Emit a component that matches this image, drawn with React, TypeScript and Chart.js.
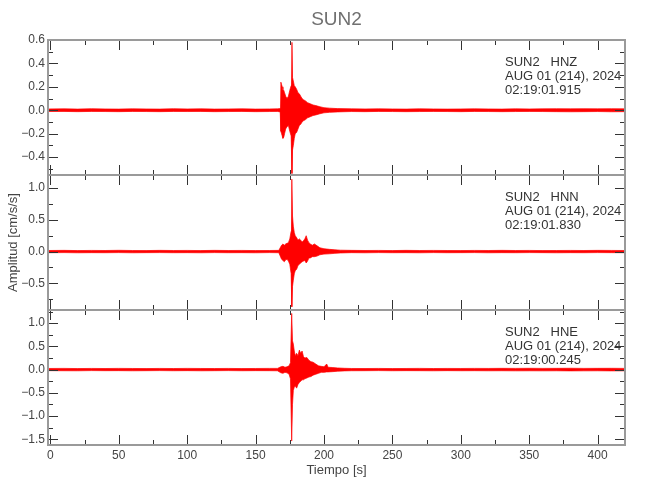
import React, { useEffect, useRef } from "react";
import { Chart, registerables } from "chart.js";

Chart.register(...registerables);

// ---------- text ----------
const TITLE = "SUN2";
const X_LABEL = "Tiempo [s]";
const Y_LABEL = "Amplitud [cm/s/s]";
const channelLabels = [
  ["SUN2   HNZ", "AUG 01 (214), 2024", "02:19:01.915"],
  ["SUN2   HNN", "AUG 01 (214), 2024", "02:19:01.830"],
  ["SUN2   HNE", "AUG 01 (214), 2024", "02:19:00.245"],
];

// ---------- axes ----------
const X_MIN = -1.7;
const X_MAX = 420;
const xMajorTicks = [0, 50, 100, 150, 200, 250, 300, 350, 400];
const xMinorTicks = [25, 75, 125, 175, 225, 275, 325, 375];

const yMins = [-0.553, -0.92, -1.625];
const yMaxs = [0.6, 1.206, 1.284];
const hnzTicks = [-0.4, -0.2, 0, 0.2, 0.4, 0.6];
const hnzMinor = [-0.5, -0.3, -0.1, 0.1, 0.3, 0.5];
const hnnTicks = [-0.5, 0, 0.5, 1.0];
const hnnMinor = [-0.75, -0.25, 0.25, 0.75];
const hneTicks = [-1.5, -1.0, -0.5, 0, 0.5, 1.0];
const hneMinor = [-1.25, -0.75, -0.25, 0.25, 0.75, 1.25];

// ---------- data: trace envelopes (time [s], upper, lower) ----------
const hnzTime = [
  -1.7, 10, 20, 30, 40, 50, 60, 70, 80, 90, 100, 110, 120, 130, 140, 150, 160, 166,
  168, 168.5, 169, 169.5, 170, 170.6, 171.2, 172, 173, 174, 175, 176, 176.6, 177, 177.6, 178.3,
  179, 180, 181, 182, 183, 184, 185, 186.5, 188, 190, 192, 194, 197, 200, 204, 210,
  220, 230, 240, 250, 260, 270, 280, 290, 300, 310, 320, 330, 340, 350, 360, 370, 380, 390, 400, 410, 420,
];
const hnzHigh = [
  0.011, 0.012, 0.01, 0.013, 0.011, 0.01, 0.012, 0.011, 0.01, 0.013, 0.011, 0.012, 0.01, 0.011, 0.012, 0.01, 0.011, 0.012,
  0.014, 0.24, 0.22, 0.2, 0.18, 0.17, 0.15, 0.12, 0.1, 0.12, 0.17, 0.21, 0.58, 0.28, 0.25, 0.21,
  0.2, 0.18, 0.15, 0.14, 0.12, 0.1, 0.09, 0.08, 0.065, 0.055, 0.045, 0.04, 0.03, 0.022, 0.018, 0.014,
  0.012, 0.011, 0.012, 0.011, 0.01, 0.012, 0.011, 0.01, 0.011, 0.012, 0.011, 0.01, 0.012, 0.011, 0.012, 0.013, 0.012, 0.013, 0.012, 0.013, 0.012,
];
const hnzLow = [
  -0.011, -0.01, -0.012, -0.01, -0.011, -0.012, -0.01, -0.011, -0.012, -0.01, -0.011, -0.01, -0.012, -0.011, -0.01, -0.012, -0.011, -0.01,
  -0.014, -0.18, -0.2, -0.22, -0.24, -0.23, -0.2, -0.16, -0.14, -0.13, -0.18, -0.22, -0.54, -0.34, -0.3, -0.24,
  -0.2, -0.19, -0.16, -0.13, -0.12, -0.1, -0.09, -0.08, -0.065, -0.055, -0.045, -0.04, -0.03, -0.022, -0.018, -0.014,
  -0.011, -0.012, -0.01, -0.011, -0.012, -0.011, -0.01, -0.011, -0.012, -0.01, -0.011, -0.012, -0.011, -0.01, -0.011, -0.012, -0.013, -0.012, -0.011, -0.013, -0.012,
];

const hnnTime = [
  -1.7, 10, 20, 30, 40, 50, 60, 70, 80, 90, 100, 110, 120, 130, 140, 150, 160, 167,
  169, 170, 171, 172, 173, 174, 175, 176, 176.5, 177, 177.6, 178.3, 179, 180, 181, 182,
  183, 184, 185, 186, 187, 188, 189, 190, 191.5, 193, 195, 197, 200, 204, 208, 212,
  220, 230, 240, 250, 260, 270, 280, 290, 300, 310, 320, 330, 340, 350, 360, 370, 380, 390, 400, 410, 420,
];
const hnnHigh = [
  0.017, 0.019, 0.016, 0.018, 0.017, 0.02, 0.017, 0.016, 0.019, 0.017, 0.018, 0.016, 0.019, 0.017, 0.018, 0.016, 0.017, 0.019,
  0.1, 0.12, 0.1, 0.12, 0.13, 0.14, 0.2, 0.32, 1.14, 0.56, 0.4, 0.3, 0.25, 0.22, 0.18, 0.2,
  0.18, 0.15, 0.17, 0.2, 0.25, 0.18, 0.14, 0.12, 0.1, 0.12, 0.09, 0.06, 0.045, 0.035, 0.028, 0.022,
  0.019, 0.017, 0.018, 0.016, 0.019, 0.017, 0.018, 0.017, 0.016, 0.018, 0.017, 0.019, 0.017, 0.018, 0.016, 0.017, 0.018, 0.017, 0.019, 0.018, 0.017,
];
const hnnLow = [
  -0.018, -0.016, -0.019, -0.017, -0.018, -0.016, -0.019, -0.017, -0.016, -0.018, -0.017, -0.019, -0.016, -0.018, -0.017, -0.019, -0.016, -0.018,
  -0.12, -0.14, -0.16, -0.13, -0.12, -0.15, -0.2, -0.35, -0.87, -0.55, -0.45, -0.35, -0.3, -0.28, -0.22, -0.2,
  -0.18, -0.16, -0.15, -0.14, -0.18, -0.15, -0.1, -0.1, -0.08, -0.08, -0.07, -0.05, -0.04, -0.035, -0.028, -0.022,
  -0.017, -0.019, -0.016, -0.018, -0.017, -0.019, -0.016, -0.018, -0.017, -0.016, -0.019, -0.017, -0.018, -0.016, -0.017, -0.019, -0.017, -0.018, -0.016, -0.017, -0.018,
];

const hneTime = [
  -1.7, 10, 20, 30, 40, 50, 60, 70, 80, 90, 100, 110, 120, 130, 140, 150, 160, 166,
  168.5, 170, 171.5, 173, 174.5, 175.5, 176.4, 177, 177.6, 178.3, 179, 180, 181, 182, 183, 184,
  185, 186, 187.5, 189, 190.5, 192, 194, 196, 198, 200, 202, 203, 206, 210, 215,
  220, 230, 240, 250, 260, 270, 280, 290, 300, 310, 320, 330, 340, 350, 360, 370, 380, 390, 400, 410, 420,
];
const hneHigh = [
  0.024, 0.026, 0.022, 0.025, 0.023, 0.026, 0.024, 0.022, 0.025, 0.023, 0.026, 0.024, 0.023, 0.025, 0.022, 0.024, 0.026, 0.026,
  0.06, 0.07, 0.05, 0.06, 0.08, 0.15, 1.21, 0.62, 0.55, 0.4, 0.3, 0.35, 0.3, 0.42, 0.35, 0.4,
  0.28, 0.25, 0.26, 0.2, 0.17, 0.16, 0.12, 0.08, 0.07, 0.06, 0.12, 0.05, 0.045, 0.035, 0.028,
  0.024, 0.023, 0.025, 0.022, 0.024, 0.026, 0.023, 0.025, 0.024, 0.026, 0.025, 0.027, 0.026, 0.028, 0.026, 0.027, 0.029, 0.026, 0.027, 0.028, 0.026,
];
const hneLow = [
  -0.023, -0.025, -0.026, -0.022, -0.024, -0.023, -0.026, -0.024, -0.022, -0.025, -0.023, -0.026, -0.024, -0.022, -0.025, -0.023, -0.024, -0.026,
  -0.07, -0.08, -0.06, -0.07, -0.1, -0.2, -1.54, -0.75, -0.45, -0.38, -0.35, -0.4, -0.32, -0.28, -0.25, -0.22,
  -0.22, -0.2, -0.18, -0.16, -0.15, -0.12, -0.1, -0.08, -0.06, -0.06, -0.05, -0.05, -0.045, -0.035, -0.028,
  -0.025, -0.024, -0.022, -0.025, -0.023, -0.024, -0.026, -0.023, -0.025, -0.024, -0.026, -0.025, -0.027, -0.026, -0.027, -0.026, -0.028, -0.027, -0.026, -0.028, -0.027,
];

// ---------- style ----------
const FONT = "'Liberation Sans', Arial, sans-serif";
const RED = "#ff0000";
const TEXT = "#444444";
const FRAME = "#9a9a9a";
const TICK = "#333333";

const panelIds = ["y1", "y2", "y3"];
const yMajor = [hnzTicks, hnnTicks, hneTicks];
const yMinor = [hnzMinor, hnnMinor, hneMinor];
const series = [
  { t: hnzTime, hi: hnzHigh, lo: hnzLow },
  { t: hnnTime, hi: hnnHigh, lo: hnnLow },
  { t: hneTime, hi: hneHigh, lo: hneLow },
];

const fmtY = (v: number) => (v < 0 ? "\u2212" : "") + Math.abs(v).toFixed(1);

const seisPlugin = {
  id: "seisFrame",
  afterDraw(chart: any) {
    const ctx = chart.ctx as CanvasRenderingContext2D;
    const area = chart.chartArea;
    const xs = chart.scales.x;
    ctx.save();
    ctx.fillStyle = "#707070";
    ctx.font = `19px ${FONT}`;
    ctx.textAlign = "center";
    ctx.textBaseline = "middle";
    ctx.fillText(TITLE, (area.left + area.right) / 2, 20);

    panelIds.forEach((id, i) => {
      const ys = chart.scales[id];
      const top = ys.top;
      const bottom = ys.bottom;
      ctx.strokeStyle = TICK;
      ctx.lineWidth = 1;
      ctx.beginPath();
      const xTick = (v: number, len: number) => {
        const px = Math.round(xs.getPixelForValue(v)) + 0.5;
        ctx.moveTo(px, bottom);
        ctx.lineTo(px, bottom - len);
        ctx.moveTo(px, top);
        ctx.lineTo(px, top + len);
      };
      xMajorTicks.forEach((v) => xTick(v, 10));
      xMinorTicks.forEach((v) => xTick(v, 5));
      const yTick = (v: number, len: number) => {
        const py = Math.round(ys.getPixelForValue(v)) + 0.5;
        ctx.moveTo(area.left, py);
        ctx.lineTo(area.left + len, py);
        ctx.moveTo(area.right, py);
        ctx.lineTo(area.right - len, py);
      };
      yMajor[i].forEach((v) => yTick(v, 10));
      yMinor[i].forEach((v) => yTick(v, 5));
      ctx.stroke();

      ctx.strokeStyle = FRAME;
      ctx.lineWidth = 2;
      ctx.strokeRect(area.left, top, area.right - area.left, bottom - top);

      ctx.fillStyle = "#333333";
      ctx.font = `13px ${FONT}`;
      ctx.textAlign = "left";
      ctx.textBaseline = "middle";
      channelLabels[i].forEach((line, k) => {
        ctx.fillText(line, 505, top + 22.6 + k * 13.8);
      });
    });
    ctx.restore();
  },
};

export default function App() {
  const canvasRef = useRef<HTMLCanvasElement | null>(null);

  useEffect(() => {
    const canvas = canvasRef.current;
    if (!canvas) return;

    const datasets: any[] = [];
    series.forEach((s, i) => {
      const n = Math.min(s.t.length, s.hi.length, s.lo.length);
      const up = [];
      const dn = [];
      for (let k = 0; k < n; k++) {
        up.push({ x: s.t[k], y: s.hi[k] });
        dn.push({ x: s.t[k], y: s.lo[k] });
      }
      const common = {
        yAxisID: panelIds[i],
        xAxisID: "x",
        borderColor: RED,
        backgroundColor: RED,
        borderWidth: 0.7,
        pointRadius: 0,
        tension: 0,
      };
      datasets.push({ ...common, data: up, fill: false });
      datasets.push({ ...common, data: dn, fill: "-1" });
    });

    const yScale = (i: number) => ({
      type: "linear",
      position: "left",
      stack: "panels",
      stackWeight: 1,
      weight: 3 - i,
      min: yMins[i],
      max: yMaxs[i],
      grid: { display: false, drawTicks: false },
      border: { display: false },
      afterBuildTicks: (s: any) => {
        s.ticks = yMajor[i].map((v) => ({ value: v }));
      },
      afterFit: (s: any) => {
        s.width = 48;
      },
      ticks: {
        padding: 3,
        autoSkip: false,
        color: TEXT,
        font: { family: FONT, size: 12 },
        callback: (v: any) => fmtY(Number(v)),
      },
      title:
        i === 1
          ? {
              display: true,
              text: Y_LABEL,
              color: TEXT,
              font: { family: FONT, size: 13 },
              padding: { top: 6, bottom: 0 },
            }
          : { display: false },
    });

    const chart = new Chart(canvas, {
      type: "line",
      data: { datasets },
      options: {
        animation: false,
        responsive: false,
        maintainAspectRatio: false,
        layout: { padding: { top: 40, right: 25, left: 0, bottom: 0 } },
        plugins: {
          legend: { display: false },
          tooltip: { enabled: false },
          title: { display: false },
        },
        scales: {
          x: {
            type: "linear",
            position: "bottom",
            min: X_MIN,
            max: X_MAX,
            grid: { display: false, drawTicks: false },
            border: { display: false },
            afterBuildTicks: (s: any) => {
              s.ticks = xMajorTicks.map((v) => ({ value: v }));
            },
            afterFit: (s: any) => {
              s.height = 55;
            },
            ticks: {
              padding: 3,
              maxRotation: 0,
              autoSkip: false,
              color: TEXT,
              font: { family: FONT, size: 12 },
              callback: (v: any) => String(v),
            },
            title: {
              display: true,
              text: X_LABEL,
              color: TEXT,
              font: { family: FONT, size: 13 },
              padding: { top: 0, bottom: 22 },
            },
          },
          y1: yScale(0),
          y2: yScale(1),
          y3: yScale(2),
        } as any,
      },
      plugins: [seisPlugin],
    } as any);

    return () => chart.destroy();
  }, []);

  return (
    <div style={{ position: "fixed", left: 0, top: 0, width: 650, height: 500, background: "#ffffff" }}>
      <canvas ref={canvasRef} width={650} height={500} style={{ width: 650, height: 500, display: "block" }} />
    </div>
  );
}
